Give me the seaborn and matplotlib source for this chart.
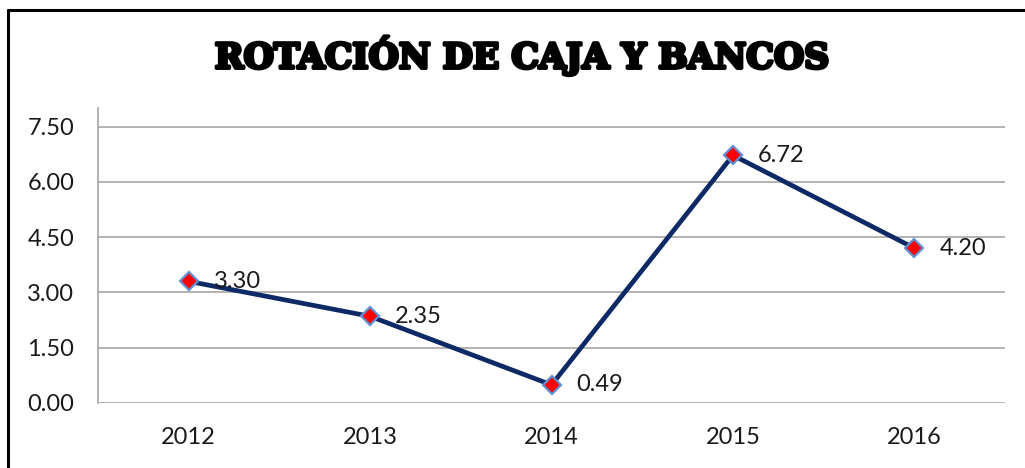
"""Rotación de caja y bancos, 2012-2016."""

import matplotlib.pyplot as plt
import matplotlib.patheffects as pe
import pandas as pd
import seaborn as sns
from matplotlib.lines import Line2D

years = ["2012", "2013", "2014", "2015", "2016"]
rotacion = [3.30, 2.35, 0.49, 6.72, 4.20]
y_ticks = [0.0, 1.5, 3.0, 4.5, 6.0, 7.5]

df = pd.DataFrame({"year": years, "rotacion": rotacion})

sns.set_style("white")
plt.rcParams["font.family"] = ["Lato", "DejaVu Sans"]

fig = plt.figure(figsize=(10.25, 4.68), dpi=100)
ax = fig.add_axes([0.0956, 0.139, 0.885, 0.630])

sns.lineplot(
    data=df,
    x="year",
    y="rotacion",
    ax=ax,
    color="#0e2a66",
    linewidth=3.4,
    marker="D",
    markersize=9.5,
    markerfacecolor="#ff0000",
    markeredgecolor="#5f8fd0",
    markeredgewidth=1.6,
    zorder=3,
)

# data labels to the right of each point
for i, v in enumerate(rotacion):
    ax.annotate(
        f"{v:.2f}",
        (i, v),
        xytext=(18, 0),
        textcoords="offset points",
        ha="left",
        va="center",
        fontsize=17,
        color="#1a1a1a",
        zorder=4,
    )

ax.set_xlim(-0.5, 4.5)
ax.set_ylim(0, 8.0)
ax.set_yticks(y_ticks)
ax.set_yticklabels([f"{t:.2f}" for t in y_ticks])
ax.yaxis.grid(True, color="#a6a6a6", linewidth=1.2)
ax.set_axisbelow(True)
ax.tick_params(axis="both", length=0, labelsize=17, colors="#1a1a1a")
ax.tick_params(axis="x", pad=17)
ax.tick_params(axis="y", pad=17)
ax.set_xlabel("")
ax.set_ylabel("")

for side in ["top", "right", "bottom"]:
    ax.spines[side].set_visible(False)
ax.spines["left"].set_color("#a6a6a6")
ax.spines["left"].set_linewidth(1.2)

fig.text(
    0.51,
    0.882,
    "ROTACIÓN DE CAJA Y BANCOS",
    ha="center",
    va="center",
    fontsize=25,
    fontweight="bold",
    family=["DejaVu Serif"],
    color="black",
    path_effects=[pe.withStroke(linewidth=2.5, foreground="black")],
)

# chart frame (top and left edges visible)
fig.add_artist(Line2D([0.008, 0.008], [0.0, 0.979], color="black", linewidth=2.2))
fig.add_artist(Line2D([0.008, 1.0], [0.979, 0.979], color="black", linewidth=2.2))

fig.savefig("out.png", dpi=100)
